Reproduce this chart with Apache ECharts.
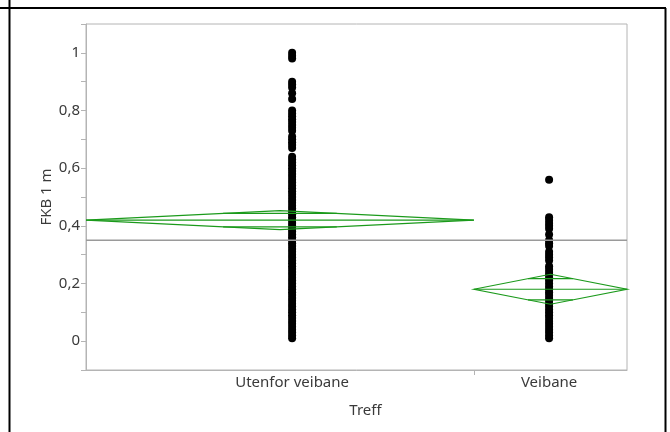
<!DOCTYPE html>
<html>
<head>
<meta charset="utf-8">
<script src="https://cdn.jsdelivr.net/npm/echarts@6/dist/echarts.min.js"></script>
<style>
  html, body { margin: 0; padding: 0; background: #fff; }
  #main { width: 670px; height: 432px; }
</style>
</head>
<body>
<div id="main"></div>
<script>
// data -------------
var categories = ['Utenfor veibane', 'Veibane'];

var utenforVals = [
    1.0, 0.99, 0.98,
    0.90, 0.89, 0.88, 0.86, 0.84,
    0.80, 0.79, 0.78, 0.77, 0.76, 0.75, 0.74, 0.73, 0.71, 0.70, 0.69, 0.68, 0.67,
    0.64, 0.63, 0.62, 0.61, 0.60, 0.59, 0.58, 0.57, 0.56, 0.55, 0.54, 0.53, 0.52, 0.51,
    0.50, 0.49, 0.48, 0.47, 0.46, 0.45, 0.44, 0.43, 0.42, 0.41, 0.40, 0.39, 0.38, 0.37,
    0.36, 0.35, 0.34, 0.33, 0.32, 0.31, 0.30, 0.29, 0.28, 0.27, 0.26, 0.25, 0.24, 0.23,
    0.22, 0.21, 0.20, 0.19, 0.18, 0.17, 0.16, 0.15, 0.14, 0.13, 0.12, 0.11, 0.10, 0.09,
    0.08, 0.07, 0.06, 0.05, 0.04, 0.03, 0.02, 0.01
];

var veibaneVals = [
    0.56,
    0.43, 0.42, 0.41, 0.40, 0.39, 0.37, 0.35, 0.34, 0.33, 0.31, 0.30, 0.29, 0.28,
    0.26, 0.25, 0.24, 0.23, 0.22, 0.21, 0.20, 0.19, 0.18, 0.17, 0.16, 0.15, 0.14,
    0.13, 0.12, 0.11, 0.10, 0.09, 0.08, 0.07, 0.06, 0.05, 0.04, 0.03, 0.02, 0.01
];

var groupMean  = [0.42, 0.18];
var groupLower = [0.387, 0.128];
var groupUpper = [0.453, 0.232];
var grandMean = 0.35;

var yTicks = [0, 0.2, 0.4, 0.6, 0.8, 1];

// layout of the groups along x (0..1)
var groupEdges = [0, 0.717, 1];
var pointX = [0.381, 0.856];

var green = '#1b9a1b';
var txt = '#3a3a3a';
var fontFam = '"Noto Sans", "Open Sans", sans-serif';

var points = [];
utenforVals.forEach(function (v) { points.push([pointX[0], v]); });
veibaneVals.forEach(function (v) { points.push([pointX[1], v]); });

var diamondData = categories.map(function (c, i) {
    return [groupEdges[i], groupEdges[i + 1], groupMean[i], groupLower[i], groupUpper[i]];
});

var myChart = echarts.init(document.getElementById('main'));

var option = {
    animation: false,
    backgroundColor: '#fff',
    textStyle: { fontFamily: fontFam },
    grid: {
        left: 86, right: 43, top: 24, bottom: 62,
        show: true, borderColor: '#b4b4b4', borderWidth: 1
    },
    xAxis: {
        type: 'value', min: 0, max: 1,
        name: 'Treff', nameLocation: 'middle', nameGap: 33,
        nameTextStyle: { fontSize: 15, color: txt, fontFamily: fontFam, padding: [0, 0, 0, 18] },
        axisLine: { show: true, onZero: false, lineStyle: { color: '#b4b4b4' } },
        axisTick: { show: true, length: 5, customValues: [groupEdges[1]], lineStyle: { color: '#b4b4b4' } },
        axisLabel: {
            customValues: pointX, margin: 5, fontSize: 15, color: txt, fontFamily: fontFam,
            formatter: function (v) {
                var i = pointX.indexOf(v);
                return i >= 0 ? categories[i] : '';
            }
        },
        splitLine: { show: false }
    },
    yAxis: {
        type: 'value', min: -0.1, max: 1.1, interval: 0.1,
        name: 'FKB 1 m', nameLocation: 'middle', nameGap: 32, nameMoveOverlap: false,
        nameTextStyle: { fontSize: 15, color: txt, fontFamily: fontFam },
        axisLine: { show: true, onZero: false, lineStyle: { color: '#b4b4b4' } },
        axisTick: { show: true, length: 5, lineStyle: { color: '#b4b4b4' } },
        axisLabel: {
            fontSize: 15, color: txt, fontFamily: fontFam, margin: 6,
            formatter: function (v) {
                var k = Math.round(v * 10);
                for (var i = 0; i < yTicks.length; i++) {
                    if (Math.round(yTicks[i] * 10) === k) {
                        return String(yTicks[i]).replace('.', ',');
                    }
                }
                return '';
            }
        },
        splitLine: { show: false }
    },
    series: [
        {
            type: 'scatter',
            data: points,
            symbol: 'circle',
            symbolSize: 8,
            itemStyle: { color: '#000', opacity: 1 },
            z: 2
        },
        {
            type: 'line',
            data: [[0, grandMean], [1, grandMean]],
            symbol: 'none',
            lineStyle: { color: '#9a9a9a', width: 1.5 },
            z: 3
        },
        {
            type: 'custom',
            data: diamondData,
            z: 4,
            renderItem: function (params, api) {
                var x0 = api.value(0), x1 = api.value(1);
                var m = api.value(2), lo = api.value(3), hi = api.value(4);
                var xc = (x0 + x1) / 2;
                var pL = api.coord([x0, m]);
                var pR = api.coord([x1, m]);
                var pT = api.coord([xc, hi]);
                var pB = api.coord([xc, lo]);
                var f = 1 / Math.SQRT2;
                // overlap marks, edge to edge inside the diamond
                var q = (1 - f) * (x1 - x0) / 2;
                var oT1 = api.coord([xc - q, m + (hi - m) * f]), oT2 = api.coord([xc + q, m + (hi - m) * f]);
                var oB1 = api.coord([xc - q, m - (m - lo) * f]), oB2 = api.coord([xc + q, m - (m - lo) * f]);
                var st = { stroke: green, lineWidth: 1.2, fill: null };
                return {
                    type: 'group',
                    children: [
                        { type: 'polygon', shape: { points: [pL, pT, pR, pB] }, style: st },
                        { type: 'line', shape: { x1: pL[0], y1: pL[1], x2: pR[0], y2: pR[1] }, style: st },
                        { type: 'line', shape: { x1: oT1[0], y1: oT1[1], x2: oT2[0], y2: oT2[1] }, style: st },
                        { type: 'line', shape: { x1: oB1[0], y1: oB1[1], x2: oB2[0], y2: oB2[1] }, style: st }
                    ]
                };
            }
        }
    ],
    graphic: [
        { type: 'line', shape: { x1: 9.5, y1: 0, x2: 9.5, y2: 432 }, style: { stroke: '#000', lineWidth: 2 } },
        { type: 'line', shape: { x1: 0, y1: 8, x2: 666, y2: 8 }, style: { stroke: '#000', lineWidth: 2 } },
        { type: 'line', shape: { x1: 665.5, y1: 8, x2: 665.5, y2: 432 }, style: { stroke: '#000', lineWidth: 2 } }
    ]
};

myChart.setOption(option);

window.onresize = function () {
    myChart.resize();
};
</script>
</body>
</html>
